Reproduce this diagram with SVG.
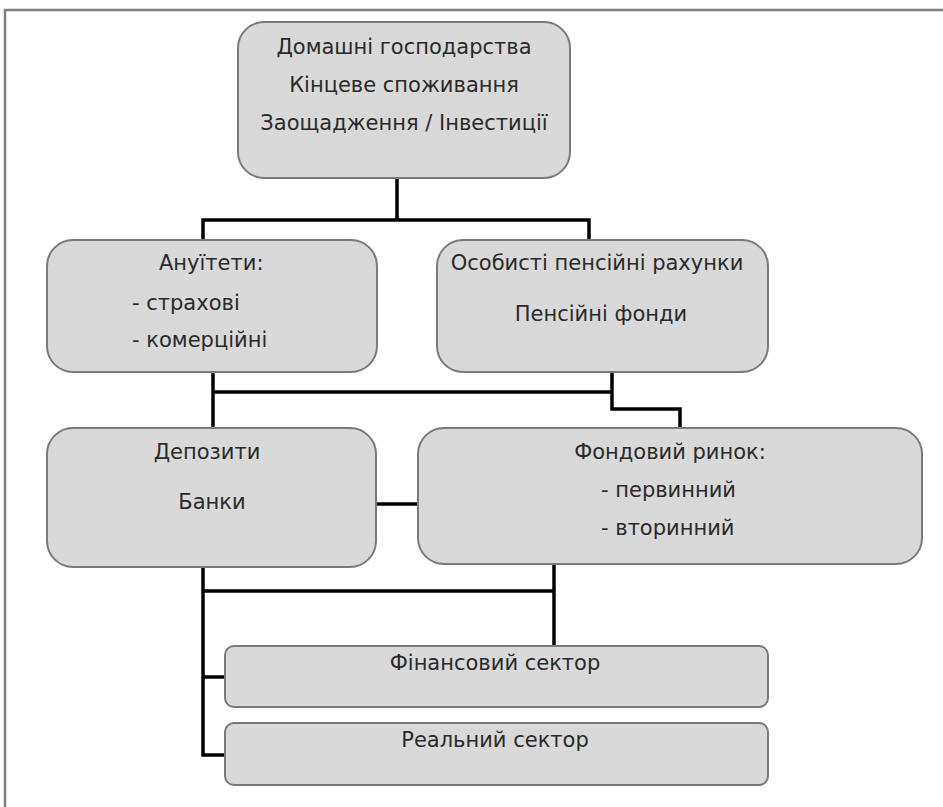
<svg xmlns="http://www.w3.org/2000/svg" width="943" height="807" viewBox="0 0 943 807">
<style>
  .node { fill: #d9d9d9; stroke: #7a7a7a; stroke-width: 2; }
  .t { font-family: "DejaVu Sans", Verdana, sans-serif; font-size: 21px; fill: #2a2a2a; }
  .c { text-anchor: middle; }
  .conn { fill: none; stroke: #000; stroke-width: 3.5; stroke-linejoin: miter; }
  .frame { fill: none; stroke: #7f7f7f; stroke-width: 2.5; }
</style>
<rect width="943" height="807" fill="#ffffff"/>
<path class="frame" d="M5,812 V10 H948"/>

<g id="connectors">
  <path class="conn" d="M397,178 V220 M203,240 V220 H589 V240"/>
  <path class="conn" d="M213,372 V428 M213,392 H612 M612,372 V409 H680 V428"/>
  <path class="conn" d="M376,504 H418"/>
  <path class="conn" d="M203,567 V755 H225 M203,591 H554 M554,564 V646 M203,677 H225"/>
</g>

<g id="households">
  <rect class="node" x="238" y="22" width="332" height="156" rx="26" ry="26"/>
  <text class="t c" x="404" y="54">Домашні господарства</text>
  <text class="t c" x="404" y="92">Кінцеве споживання</text>
  <text class="t c" x="404" y="130">Заощадження / Інвестиції</text>
</g>

<g id="annuities">
  <rect class="node" x="47" y="240" width="330" height="132" rx="26" ry="26"/>
  <text class="t" x="159" y="270">Ануїтети:</text>
  <text class="t" x="132" y="310">- страхові</text>
  <text class="t" x="132" y="347">- комерційні</text>
</g>

<g id="pensions">
  <rect class="node" x="437" y="240" width="331" height="132" rx="26" ry="26"/>
  <text class="t c" x="597" y="270">Особисті пенсійні рахунки</text>
  <text class="t c" x="601" y="321">Пенсійні фонди</text>
</g>

<g id="deposits">
  <rect class="node" x="47" y="428" width="329" height="139" rx="26" ry="26"/>
  <text class="t c" x="207" y="459">Депозити</text>
  <text class="t c" x="212" y="509">Банки</text>
</g>

<g id="stockmarket">
  <rect class="node" x="418" y="428" width="504" height="136" rx="26" ry="26"/>
  <text class="t c" x="670" y="459">Фондовий ринок:</text>
  <text class="t" x="601" y="497">- первинний</text>
  <text class="t" x="601" y="535">- вторинний</text>
</g>

<g id="financial">
  <rect class="node" x="225" y="646" width="543" height="61" rx="9" ry="9"/>
  <text class="t c" x="495" y="670">Фінансовий сектор</text>
</g>

<g id="real">
  <rect class="node" x="225" y="723" width="543" height="62" rx="9" ry="9"/>
  <text class="t c" x="495" y="747">Реальний сектор</text>
</g>
</svg>
